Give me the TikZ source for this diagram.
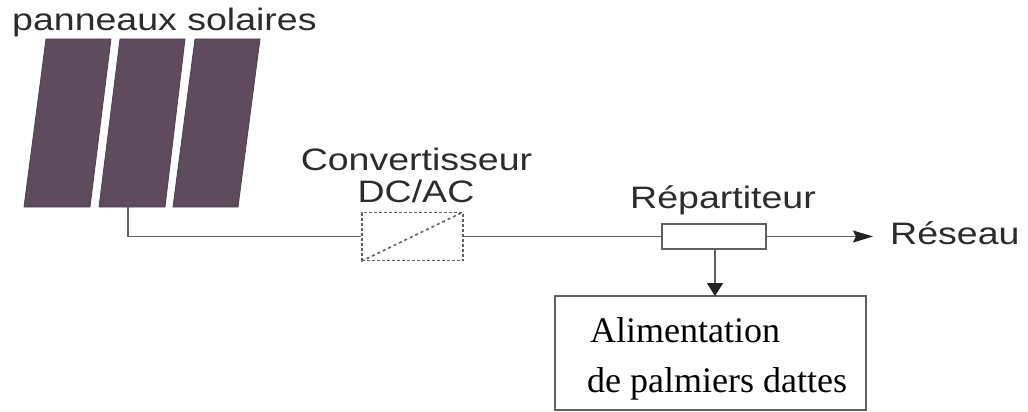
\documentclass[tikz,border=0pt]{standalone}
\usepackage{fontspec}
\setmainfont{Liberation Serif}
\newfontfamily\diagsans[FakeStretch=1.21]{Liberation Sans}
\usetikzlibrary{arrows.meta}
\definecolor{panelfill}{HTML}{5E4B5E}
\definecolor{panelline}{HTML}{4A444A}
\definecolor{wirecol}{HTML}{606060}
\definecolor{inkcol}{HTML}{2C2C2C}
\definecolor{tipcol}{HTML}{222222}
\tikzset{
  panel/.style={fill=panelfill,draw=panelline,line width=0.8pt},
  wire/.style={draw=wirecol,line width=1.5pt},
  sanslabel/.style={inner sep=0pt,text=inkcol,font=\diagsans\fontsize{31}{36}\selectfont},
  seriflabel/.style={inner sep=0pt,anchor=base west,text=black,font=\fontsize{36}{40}\selectfont},
  boxed/.style={draw=wirecol,line width=1.5pt,fill=white,inner sep=0pt},
  dashbox/.style={draw=wirecol,line width=1.6pt,densely dashed,inner sep=0pt},
}
\begin{document}
\begin{tikzpicture}[x=1pt,y=-1pt]
\useasboundingbox (0,0) rectangle (1028,412);
\node[sanslabel,anchor=base west] (title) at (12,31) {panneaux solaires};
\draw[panel] (46,39) -- (111,39) -- (90,207) -- (24,207) -- cycle;
\draw[panel] (120,39) -- (185,39) -- (165,207) -- (99,207) -- cycle;
\draw[panel] (195,39) -- (260,39) -- (238,207) -- (173,207) -- cycle;
\coordinate (panelout) at (128,207);
\node[sanslabel,anchor=base] (convlabel) at (416.5,170) {Convertisseur};
\node[sanslabel,anchor=base] (dclabel) at (416,202) {DC/AC};
\node[dashbox,minimum width=101pt,minimum height=48pt] (conv) at (412.5,236.5) {};
\draw[wirecol,line width=1.6pt,dashed] (conv.south west) -- (conv.north east);
\node[boxed,minimum width=104pt,minimum height=25pt] (rep) at (714,236.5) {};
\node[sanslabel,anchor=base] (replabel) at (723,208) {Répartiteur};
\node[sanslabel,anchor=base west] (reseau) at (890,244) {Réseau};
\coordinate (arrowend) at (873,236.5);
\node[boxed,minimum width=311pt,minimum height=114pt] (load) at (710.5,353) {};
\node[seriflabel] (l1) at (590,342) {Alimentation};
\node[seriflabel] (l2) at (587,392) {de palmiers dattes};
\draw[wire] (panelout) |- (conv.west);
\draw[wire] (conv.east) -- (rep.west);
\draw[wire,-{Stealth[length=20pt,width=12pt,inset=3pt,color=tipcol]}] (rep.east) -- (arrowend);
\draw[wire,-{Triangle[length=13pt,width=16pt,color=tipcol]}] (rep.south) ++(1,0) -- (715,296);
\end{tikzpicture}
\end{document}
